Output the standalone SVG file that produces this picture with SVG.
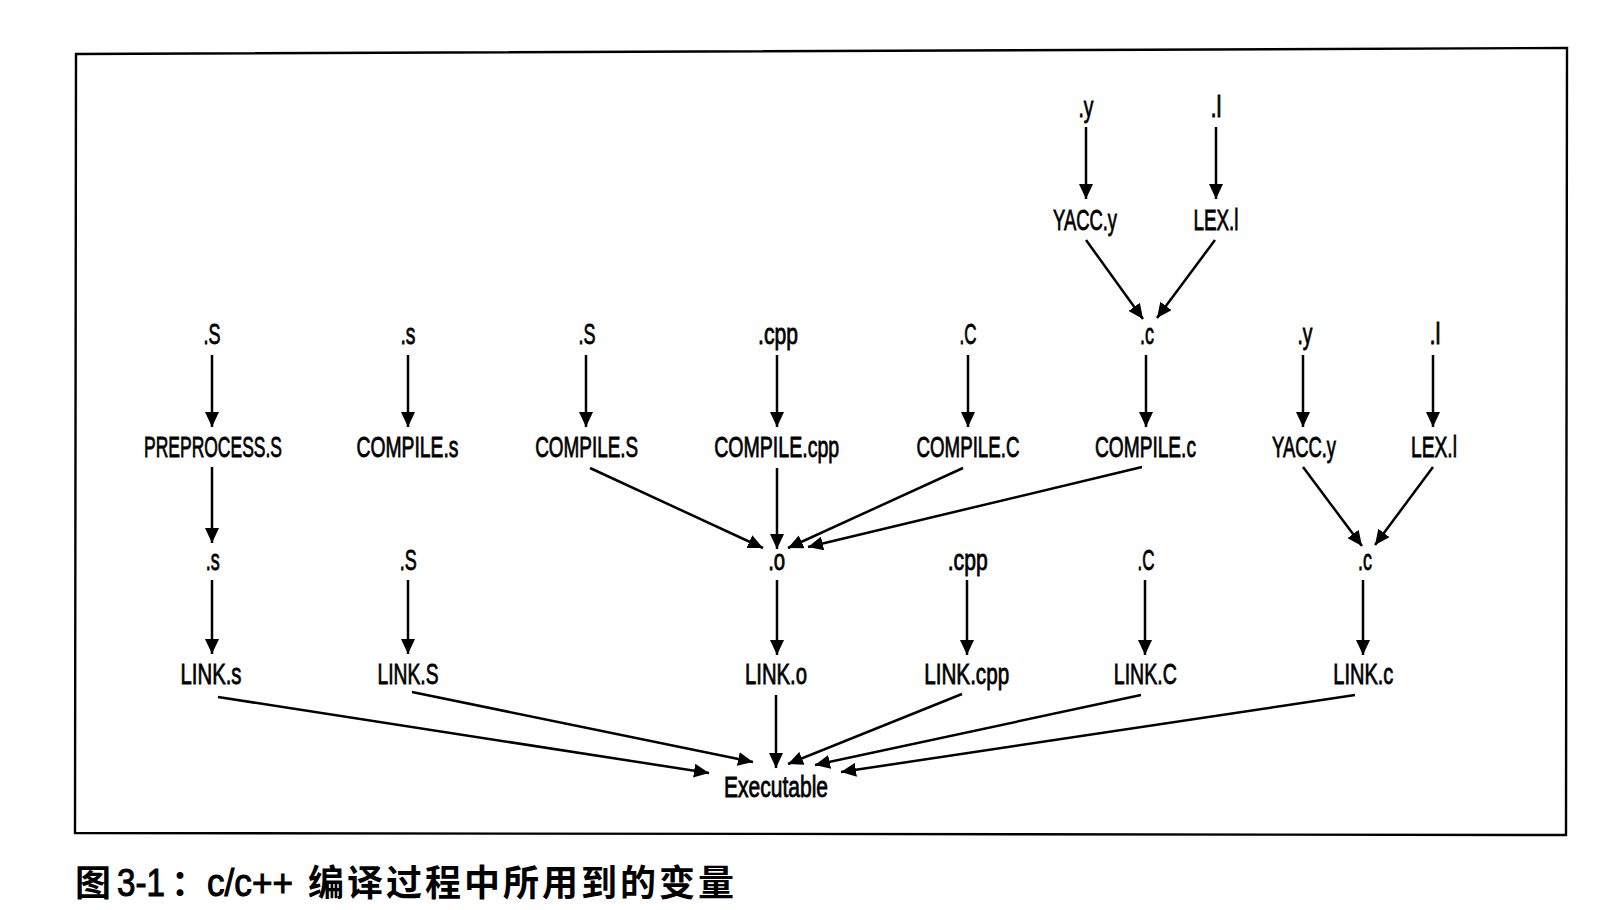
<svg xmlns="http://www.w3.org/2000/svg" width="1616" height="910" viewBox="0 0 1616 910">
<style>
.lbl{font-family:"Liberation Sans",Arial,sans-serif;font-size:29px;fill:#000;text-anchor:middle;stroke:#000;stroke-width:0.8px}
.edge{stroke:#000;stroke-width:2.5;fill:none;marker-end:url(#ah)}
.frame{fill:none;stroke:#000;stroke-width:2.4}
.cap{font-family:"Liberation Sans","Noto Sans CJK SC",sans-serif;font-size:36px;font-weight:bold;fill:#000}
</style>
<defs>
<marker id="ah" markerUnits="userSpaceOnUse" markerWidth="16" markerHeight="14" refX="15" refY="7" orient="auto">
<path d="M0,0 L15,7 L0,14 z" fill="#000"/>
</marker>
</defs>
<rect width="1616" height="910" fill="#fff"/>
<polygon class="frame" points="76,54 1567,48 1566,835 75,833"/>

<g id="connectors">
<line class="edge" x1="1086" y1="127" x2="1086" y2="199"/>
<line class="edge" x1="1216" y1="127" x2="1216" y2="199"/>
<line class="edge" x1="1086" y1="240" x2="1143" y2="319"/>
<line class="edge" x1="1215" y1="240" x2="1157" y2="318"/>

<line class="edge" x1="212" y1="355" x2="212" y2="427"/>
<line class="edge" x1="408" y1="355" x2="408" y2="427"/>
<line class="edge" x1="586" y1="355" x2="586" y2="427"/>
<line class="edge" x1="777" y1="355" x2="777" y2="427"/>
<line class="edge" x1="968" y1="355" x2="968" y2="427"/>
<line class="edge" x1="1146" y1="355" x2="1146" y2="427"/>
<line class="edge" x1="1303" y1="355" x2="1303" y2="427"/>
<line class="edge" x1="1433" y1="355" x2="1433" y2="427"/>

<line class="edge" x1="212" y1="467" x2="212" y2="543"/>
<line class="edge" x1="590" y1="468" x2="763" y2="548"/>
<line class="edge" x1="777" y1="468" x2="777" y2="549"/>
<line class="edge" x1="963" y1="468" x2="788" y2="548"/>
<line class="edge" x1="1142" y1="467" x2="808" y2="547"/>
<line class="edge" x1="1303" y1="467" x2="1362" y2="546"/>
<line class="edge" x1="1433" y1="467" x2="1375" y2="545"/>

<line class="edge" x1="212" y1="580" x2="212" y2="654"/>
<line class="edge" x1="408" y1="580" x2="408" y2="654"/>
<line class="edge" x1="777" y1="580" x2="777" y2="655"/>
<line class="edge" x1="967" y1="580" x2="967" y2="655"/>
<line class="edge" x1="1145" y1="580" x2="1145" y2="655"/>
<line class="edge" x1="1363" y1="580" x2="1363" y2="655"/>

<line class="edge" x1="218" y1="697" x2="709" y2="773"/>
<line class="edge" x1="412" y1="692" x2="753" y2="762"/>
<line class="edge" x1="776" y1="695" x2="776" y2="768"/>
<line class="edge" x1="962" y1="694" x2="788" y2="764"/>
<line class="edge" x1="1141" y1="695" x2="815" y2="765"/>
<line class="edge" x1="1355" y1="695" x2="841" y2="772"/>
</g>

<g id="n_y_top"><text class="lbl" x="1086" y="117" textLength="15" lengthAdjust="spacingAndGlyphs">.y</text></g>
<g id="n_l_top"><text class="lbl" x="1216" y="117" textLength="11" lengthAdjust="spacingAndGlyphs">.l</text></g>
<g id="n_yacc_top"><text class="lbl" x="1085" y="230" textLength="64" lengthAdjust="spacingAndGlyphs">YACC.y</text></g>
<g id="n_lex_top"><text class="lbl" x="1216" y="230" textLength="45" lengthAdjust="spacingAndGlyphs">LEX.l</text></g>

<g id="n_S1"><text class="lbl" x="212" y="344" textLength="17" lengthAdjust="spacingAndGlyphs">.S</text></g>
<g id="n_s1"><text class="lbl" x="408" y="344" textLength="15" lengthAdjust="spacingAndGlyphs">.s</text></g>
<g id="n_S2"><text class="lbl" x="587" y="344" textLength="17" lengthAdjust="spacingAndGlyphs">.S</text></g>
<g id="n_cpp1"><text class="lbl" x="778" y="344" textLength="40" lengthAdjust="spacingAndGlyphs">.cpp</text></g>
<g id="n_C1"><text class="lbl" x="968" y="344" textLength="17" lengthAdjust="spacingAndGlyphs">.C</text></g>
<g id="n_c1"><text class="lbl" x="1147" y="344" textLength="14" lengthAdjust="spacingAndGlyphs">.c</text></g>
<g id="n_y1"><text class="lbl" x="1305" y="344" textLength="15" lengthAdjust="spacingAndGlyphs">.y</text></g>
<g id="n_l1"><text class="lbl" x="1435" y="344" textLength="11" lengthAdjust="spacingAndGlyphs">.l</text></g>

<g id="n_preprocess_S"><text class="lbl" transform="translate(213,457) scale(0.603,1)" x="0" y="0">PREPROCESS.S</text></g>
<g id="n_compile_s"><text class="lbl" x="407.5" y="457" textLength="102" lengthAdjust="spacingAndGlyphs">COMPILE.s</text></g>
<g id="n_compile_S"><text class="lbl" x="586.7" y="457" textLength="103" lengthAdjust="spacingAndGlyphs">COMPILE.S</text></g>
<g id="n_compile_cpp"><text class="lbl" x="776.7" y="457" textLength="125" lengthAdjust="spacingAndGlyphs">COMPILE.cpp</text></g>
<g id="n_compile_C"><text class="lbl" x="968" y="457" textLength="103" lengthAdjust="spacingAndGlyphs">COMPILE.C</text></g>
<g id="n_compile_c"><text class="lbl" x="1145.5" y="457" textLength="101" lengthAdjust="spacingAndGlyphs">COMPILE.c</text></g>
<g id="n_yacc"><text class="lbl" x="1304" y="457" textLength="64" lengthAdjust="spacingAndGlyphs">YACC.y</text></g>
<g id="n_lex"><text class="lbl" x="1434" y="457" textLength="46" lengthAdjust="spacingAndGlyphs">LEX.l</text></g>

<g id="n_s2"><text class="lbl" x="212.7" y="570" textLength="14" lengthAdjust="spacingAndGlyphs">.s</text></g>
<g id="n_S3"><text class="lbl" x="408.3" y="570" textLength="17" lengthAdjust="spacingAndGlyphs">.S</text></g>
<g id="n_o"><text class="lbl" x="776.7" y="570" textLength="17" lengthAdjust="spacingAndGlyphs">.o</text></g>
<g id="n_cpp2"><text class="lbl" x="967.7" y="570" textLength="40" lengthAdjust="spacingAndGlyphs">.cpp</text></g>
<g id="n_C2"><text class="lbl" x="1146" y="570" textLength="17" lengthAdjust="spacingAndGlyphs">.C</text></g>
<g id="n_c2"><text class="lbl" x="1365" y="570" textLength="14" lengthAdjust="spacingAndGlyphs">.c</text></g>

<g id="n_link_s"><text class="lbl" x="211" y="684" textLength="61" lengthAdjust="spacingAndGlyphs">LINK.s</text></g>
<g id="n_link_S"><text class="lbl" x="408" y="684" textLength="61" lengthAdjust="spacingAndGlyphs">LINK.S</text></g>
<g id="n_link_o"><text class="lbl" x="776" y="684" textLength="62" lengthAdjust="spacingAndGlyphs">LINK.o</text></g>
<g id="n_link_cpp"><text class="lbl" x="966.7" y="684" textLength="85" lengthAdjust="spacingAndGlyphs">LINK.cpp</text></g>
<g id="n_link_C"><text class="lbl" x="1145.3" y="684" textLength="63" lengthAdjust="spacingAndGlyphs">LINK.C</text></g>
<g id="n_link_c"><text class="lbl" x="1363.3" y="684" textLength="60" lengthAdjust="spacingAndGlyphs">LINK.c</text></g>

<g id="n_executable"><text class="lbl" x="776" y="797" textLength="104" lengthAdjust="spacingAndGlyphs">Executable</text></g>

<text class="cap" y="896"><tspan x="75">图</tspan><tspan x="117" font-size="38" font-weight="normal" stroke="#000" stroke-width="1" textLength="48" lengthAdjust="spacingAndGlyphs">3-1</tspan><tspan x="171">：</tspan><tspan x="207" font-size="38" font-weight="normal" stroke="#000" stroke-width="1" textLength="86" lengthAdjust="spacingAndGlyphs">c/c++</tspan><tspan x="308" letter-spacing="3">编译过程中所用到的变量</tspan></text>
</svg>
